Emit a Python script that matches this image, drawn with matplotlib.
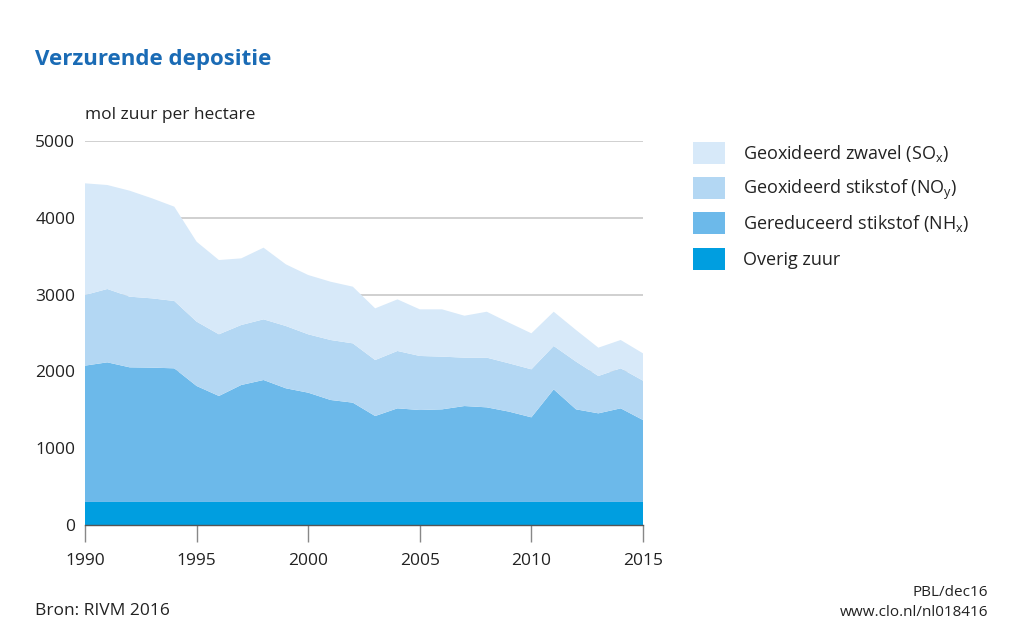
import matplotlib
matplotlib.use('Agg')
import matplotlib.pyplot as plt
from matplotlib.patches import Rectangle

plt.rcParams['font.family'] = ['Open Sans', 'DejaVu Sans']
plt.rcParams['mathtext.fontset'] = 'custom'
plt.rcParams['mathtext.rm'] = 'Open Sans'

jaren = list(range(1990, 2016))
overig = [300] * 26
nhx_top = [2075, 2118, 2053, 2049, 2040, 1810, 1680, 1823, 1888, 1780, 1723, 1628, 1593,
           1419, 1519, 1497, 1506, 1549, 1532, 1476, 1402, 1766, 1506, 1454, 1519, 1367]
noy_top = [2995, 3073, 2973, 2951, 2917, 2648, 2483, 2604, 2678, 2591, 2483, 2409, 2365,
           2148, 2266, 2201, 2192, 2179, 2179, 2105, 2027, 2331, 2127, 1940, 2040, 1879]
sox_top = [4449, 4427, 4353, 4254, 4145, 3689, 3450, 3472, 3611, 3394, 3255, 3168, 3103,
           2821, 2938, 2808, 2808, 2725, 2777, 2634, 2496, 2777, 2539, 2309, 2409, 2235]

nhx = [a - b for a, b in zip(nhx_top, overig)]
noy = [a - b for a, b in zip(noy_top, nhx_top)]
sox = [a - b for a, b in zip(sox_top, noy_top)]

labels = ['Geoxideerd zwavel (SO$_\\mathrm{x}$)', 'Geoxideerd stikstof (NO$_\\mathrm{y}$)',
          'Gereduceerd stikstof (NH$_\\mathrm{x}$)', 'Overig zuur']
kleuren = ['#d7e9f9', '#b3d7f3', '#6cb9ea', '#009ee0']

fig = plt.figure(figsize=(10.24, 6.31), dpi=100)
ax = fig.add_axes([85 / 1024, 1 - 525 / 631, (643 - 85) / 1024, (525 - 141) / 631])

ax.stackplot(jaren, overig, nhx, noy, sox,
             colors=[kleuren[3], kleuren[2], kleuren[1], kleuren[0]], linewidth=0, zorder=2)

ax.set_xlim(1990, 2015)
ax.set_ylim(0, 5000)
ax.set_yticks([0, 1000, 2000, 3000, 4000, 5000])
ax.set_xticks([1990, 1995, 2000, 2005, 2010, 2015])
ax.yaxis.grid(True, color='#c8c8c8', linewidth=1.2, zorder=1)
ax.set_axisbelow(True)
for s in ['top', 'right', 'left']:
    ax.spines[s].set_visible(False)
ax.spines['bottom'].set_color('#555555')
ax.spines['bottom'].set_linewidth(1)
ax.spines['bottom'].set_zorder(3)
ax.tick_params(axis='y', length=0, pad=7, labelsize=12.5, colors='#222222')
ax.tick_params(axis='x', length=12, width=1, color='#888888', pad=8, labelsize=12.5,
               labelcolor='#222222')

fig.text(35 / 1024, 1 - 60 / 631, 'Verzurende depositie', fontsize=16, fontweight='bold',
         color='#1a6bb5', va='center')
fig.text(85 / 1024, 1 - 115 / 631, 'mol zuur per hectare', fontsize=12.5, color='#222222',
         va='center')

# legenda
rij_y = [153, 188, 223, 259]
for lab, kl, y in zip(labels, kleuren, rij_y):
    fig.patches.append(Rectangle((693 / 1024, 1 - (y + 11) / 631), 32 / 1024, 22 / 631,
                                 transform=fig.transFigure, facecolor=kl, edgecolor='none'))
    fig.text(743 / 1024, 1 - (y + 6) / 631, lab, fontsize=13, color='#222222', va='baseline')

fig.text(35 / 1024, 1 - 611 / 631, 'Bron: RIVM 2016', fontsize=12.5, color='#222222', va='center')
fig.text(988 / 1024, 1 - 593 / 631, 'PBL/dec16', fontsize=11, color='#222222', va='center',
         ha='right')
fig.text(988 / 1024, 1 - 613 / 631, 'www.clo.nl/nl018416', fontsize=11, color='#222222',
         va='center', ha='right')

fig.savefig('out.png', dpi=100)
